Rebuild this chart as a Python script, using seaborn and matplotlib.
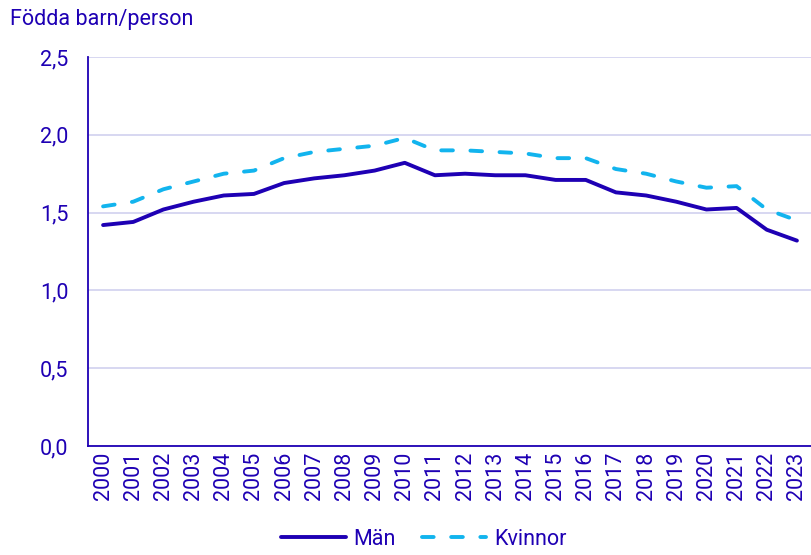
import pandas as pd
import numpy as np
import matplotlib
matplotlib.use("Agg")
import matplotlib.pyplot as plt
from matplotlib.ticker import FixedLocator, FuncFormatter
import seaborn as sns

# data
years = [str(y) for y in range(2000, 2024)]
man = [1.42, 1.44, 1.52, 1.57, 1.61, 1.62, 1.69, 1.72, 1.74, 1.77, 1.82, 1.74,
       1.75, 1.74, 1.74, 1.71, 1.71, 1.63, 1.61, 1.57, 1.52, 1.53, 1.39, 1.32]
kvinnor = [1.54, 1.57, 1.65, 1.70, 1.75, 1.77, 1.85, 1.89, 1.91, 1.93, 1.98, 1.90,
           1.90, 1.89, 1.88, 1.85, 1.85, 1.78, 1.75, 1.70, 1.66, 1.67, 1.52, 1.45]

dark = "#1e00b4"
light = "#12b4ee"
grid_col = "#d4d4f0"

df = pd.DataFrame({
    "pos": list(range(len(years))) * 2,
    "value": man + kvinnor,
    "Kön": ["Män"] * len(years) + ["Kvinnor"] * len(years),
})

sns.set_style("white")
plt.rcParams["font.family"] = ["Roboto", "DejaVu Sans"]
plt.rcParams["lines.dash_capstyle"] = "round"
plt.rcParams["lines.solid_capstyle"] = "round"

FS = 15.5

fig = plt.figure(figsize=(8.12, 5.55), dpi=100)
ax = fig.add_axes([88 / 812, 1 - 446 / 555, 1 - 88 / 812, (446 - 57) / 555])

sns.lineplot(
    data=df, x="pos", y="value", hue="Kön", style="Kön",
    palette={"Män": dark, "Kvinnor": light},
    dashes={"Män": "", "Kvinnor": (3, 4.5)},
    linewidth=2.8, ax=ax, legend=True,
)

ax.set_xlim(-0.5, len(years) - 0.5)
ax.set_ylim(0, 2.5)
ax.set_xlabel("")
ax.set_ylabel("")

# x: ticks between categories, labels centred
ax.xaxis.set_major_locator(FixedLocator(np.arange(-0.5, len(years), 1.0)))
ax.xaxis.set_major_formatter(FuncFormatter(lambda v, p: ""))
ax.set_xticks(np.arange(len(years)), labels=years, minor=True)
ax.tick_params(axis="x", which="major", length=7, width=1.2, color=dark, direction="out")
ax.tick_params(axis="x", which="minor", length=0, labelsize=FS, labelcolor=dark,
               rotation=90, pad=4)

ax.set_yticks([0, 0.5, 1.0, 1.5, 2.0, 2.5])
ax.yaxis.set_major_formatter(FuncFormatter(lambda v, p: f"{v:.1f}".replace(".", ",")))
ax.tick_params(axis="y", length=6, width=1.2, color=dark, labelsize=FS,
               labelcolor=dark, pad=8)

ax.grid(axis="y", color=grid_col, linewidth=1.3)
ax.set_axisbelow(True)
for s in ["top", "right"]:
    ax.spines[s].set_visible(False)
for s in ["left", "bottom"]:
    ax.spines[s].set_color(dark)
    ax.spines[s].set_linewidth(1.3)

handles, labels = ax.get_legend_handles_labels()
ax.legend(handles, labels, loc="lower center", bbox_to_anchor=(0.522, -0.006),
          bbox_transform=fig.transFigure, ncol=2, frameon=False, fontsize=FS,
          labelcolor=dark, handlelength=3.0, handletextpad=0.35, columnspacing=1.2,
          borderaxespad=0.0)

fig.text(10 / 812, 1 - 20 / 555, "Födda barn/person", color=dark, fontsize=FS,
         va="center", ha="left")

fig.savefig("out.png", dpi=100)
